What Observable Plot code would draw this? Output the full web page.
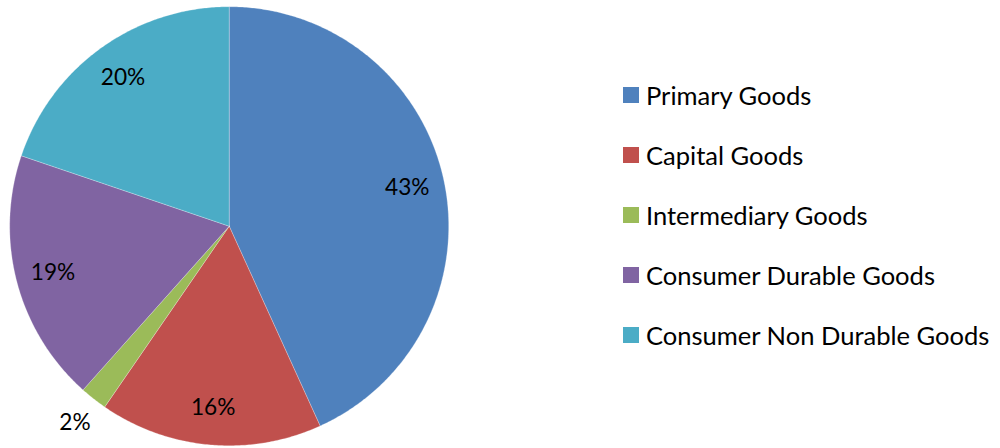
<!DOCTYPE html>
<html>
<head>
<meta charset="utf-8">
<script src="https://cdn.jsdelivr.net/npm/d3@7"></script>
<script src="https://cdn.jsdelivr.net/npm/@observablehq/plot@0.6"></script>
<style>
  html, body { margin: 0; padding: 0; background: #fff; }
  #wrap { position: relative; width: 1000px; height: 448px; overflow: hidden; }
  #legend { position: absolute; left: 623px; top: 65.6px; font-family: Lato, "Open Sans", sans-serif; color: #000; }
  .row { display: flex; align-items: center; height: 59.8px; white-space: nowrap; }
  .sw { width: 16px; height: 16px; margin-right: 7px; flex: none; }
</style>
</head>
<body>
<div id="wrap"></div>
<script>
const categories = ["Primary Goods", "Capital Goods", "Intermediary Goods", "Consumer Durable Goods", "Consumer Non Durable Goods"];
const values = [43.2, 16.4, 2.0, 18.6, 19.8];
const colors = ["#4F81BD", "#C0504D", "#9BBB59", "#8064A2", "#4BACC6"];
const labelOutside = [false, false, true, false, false];

const W = 1000, H = 448;
const cx = 228.7, cy = 225.7, R = 219.5; // layout of the pie in the frame
const FONT = "Lato, 'Open Sans', sans-serif";

// fit font sizes to the reference text widths
const ctx = document.createElement("canvas").getContext("2d");
function fitSize(text, target, base) {
  ctx.font = base + "px " + FONT;
  const w = ctx.measureText(text).width;
  return base * target / w;
}
const legendSize = fitSize("Consumer Non Durable Goods", 344, 28);
const labelSize = fitSize("43%", 44.5, 25);

const arcs = d3.pie().sort(null).value(d => d.value)(categories.map((c, i) => ({cat: c, value: values[i], i})));

const pts = [];
for (const a of arcs) {
  const cat = a.data.cat;
  pts.push({cat, x: 0, y: 0});
  const n = Math.max(2, Math.ceil((a.endAngle - a.startAngle) / (Math.PI / 360)));
  for (let k = 0; k <= n; k++) {
    const t = a.startAngle + (a.endAngle - a.startAngle) * k / n;
    pts.push({cat, x: Math.sin(t), y: Math.cos(t)});
  }
  pts.push({cat, x: 0, y: 0});
}

const labels = arcs.map(a => {
  const m = (a.startAngle + a.endAngle) / 2;
  const rr = labelOutside[a.data.i] ? 1.137 : 0.83;
  return {x: rr * Math.sin(m), y: rr * Math.cos(m), text: Math.round(a.data.value) + "%"};
});

const plot = Plot.plot({
  width: W, height: H,
  margin: 0,
  x: {domain: [-cx / R, (W - cx) / R], axis: null},
  y: {domain: [-(H - cy) / R, cy / R], axis: null},
  color: {domain: categories, range: colors},
  style: {background: "white", overflow: "visible"},
  marks: [
    Plot.line(pts, {x: "x", y: "y", z: "cat", fill: "cat", stroke: "white", strokeWidth: 0.5, strokeOpacity: 0.5, curve: "linear-closed"}),
    Plot.text(labels, {x: "x", y: "y", text: "text", fontSize: labelSize, fontFamily: FONT, fill: "#000", textAnchor: "middle", lineAnchor: "middle"})
  ]
});

const wrap = document.getElementById("wrap");
wrap.appendChild(plot);

const legend = document.createElement("div");
legend.id = "legend";
legend.style.fontSize = legendSize + "px";
categories.forEach((c, i) => {
  const row = document.createElement("div");
  row.className = "row";
  const sw = document.createElement("span");
  sw.className = "sw";
  sw.style.background = colors[i];
  const tx = document.createElement("span");
  tx.textContent = c;
  row.appendChild(sw); row.appendChild(tx);
  legend.appendChild(row);
});
wrap.appendChild(legend);
</script>
</body>
</html>
